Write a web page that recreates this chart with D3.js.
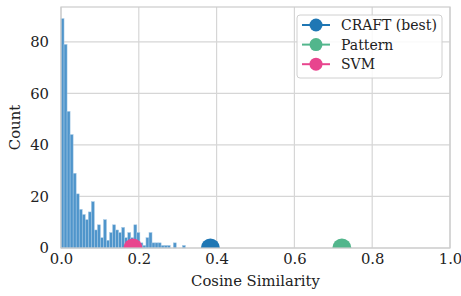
<!DOCTYPE html>
<html>
<head>
<meta charset="utf-8">
<script src="https://cdn.jsdelivr.net/npm/d3@7"></script>
<style>
  body { margin: 0; background: #fff; }
  text { font-family: "DejaVu Serif", serif; fill: #222; }
</style>
</head>
<body>
<div id="chart"></div>
<script>
// histogram counts, one per bin starting at 0
const binWidth = 0.0078;
const counts = [89, 79, 53, 44, 29, 21, 15, 13, 11, 14, 18, 7, 9, 4, 11, 3, 6, 9, 7, 6,
                8, 4, 6, 4, 9, 6, 2, 1, 4, 6, 2, 2, 2, 1, 1, 1, 0, 2, 0, 0, 1];

const methods = ["CRAFT (best)", "Pattern", "SVM"];
const similarity = [0.384, 0.722, 0.185];
const colors = ["#1f77b4", "#52b68c", "#e8458e"];

const xTicks = [0, 0.2, 0.4, 0.6, 0.8, 1.0];
const yTicks = [0, 20, 40, 60, 80];

const width = 461, height = 296;
const margin = { top: 7, right: 11, bottom: 48, left: 61 };
const fontSize = 14.8;

const svg = d3.select("#chart").append("svg")
    .attr("width", width)
    .attr("height", height);

const x = d3.scaleLinear().domain([0, 1]).range([margin.left, width - margin.right]);
const y = d3.scaleLinear().domain([0, 93.5]).range([height - margin.bottom, margin.top]);

// clip for plot area
svg.append("clipPath").attr("id", "plot")
  .append("rect")
    .attr("x", x(0)).attr("y", y(93.5))
    .attr("width", x(1) - x(0)).attr("height", y(0) - y(93.5));

// grid
const grid = svg.append("g");
grid.selectAll(".gx").data(xTicks).join("line")
    .attr("x1", d => x(d)).attr("x2", d => x(d))
    .attr("y1", y(0)).attr("y2", y(93.5))
    .attr("stroke", "#d6d6d6").attr("stroke-width", 1.2);
grid.selectAll(".gy").data(yTicks).join("line")
    .attr("y1", d => y(d)).attr("y2", d => y(d))
    .attr("x1", x(0)).attr("x2", x(1))
    .attr("stroke", "#d6d6d6").attr("stroke-width", 1.2);

// bars
svg.append("g")
  .selectAll("rect")
  .data(counts)
  .join("rect")
    .attr("x", (d, i) => x(i * binWidth))
    .attr("y", d => y(d))
    .attr("width", x(binWidth) - x(0))
    .attr("height", d => y(0) - y(d))
    .attr("fill", "#4f95cb")
    .attr("stroke", "#a9cbe6")
    .attr("stroke-width", 0.5);

// markers at y = 0
svg.append("g")
    .attr("clip-path", "url(#plot)")
  .selectAll("circle")
  .data(methods)
  .join("circle")
    .attr("cx", (d, i) => x(similarity[i]))
    .attr("cy", y(0))
    .attr("r", 9.5)
    .attr("fill", (d, i) => colors[i]);

// frame
svg.append("rect")
    .attr("x", x(0)).attr("y", y(93.5))
    .attr("width", x(1) - x(0)).attr("height", y(0) - y(93.5))
    .attr("fill", "none").attr("stroke", "#cccccc").attr("stroke-width", 1.2);

// axes
const xAxis = svg.append("g")
    .attr("transform", `translate(0,${y(0)})`)
    .call(d3.axisBottom(x).tickValues(xTicks).tickFormat(d3.format(".1f")).tickSize(0).tickPadding(5));
const yAxis = svg.append("g")
    .attr("transform", `translate(${x(0)},0)`)
    .call(d3.axisLeft(y).tickValues(yTicks).tickSize(0).tickPadding(12));
[xAxis, yAxis].forEach(a => {
  a.select(".domain").remove();
  a.attr("font-family", null);
  a.selectAll("text").attr("font-size", fontSize).attr("fill", "#222");
});

svg.append("text")
    .attr("x", (x(0) + x(1)) / 2)
    .attr("y", 286)
    .attr("text-anchor", "middle")
    .attr("font-size", fontSize)
    .text("Cosine Similarity");

svg.append("text")
    .attr("transform", `translate(20,${(y(0) + y(93.5)) / 2}) rotate(-90)`)
    .attr("text-anchor", "middle")
    .attr("font-size", fontSize)
    .text("Count");

// legend
const legend = svg.append("g").attr("transform", "translate(297,15)");
legend.append("rect")
    .attr("width", 145).attr("height", 63)
    .attr("rx", 3)
    .attr("fill", "#fff").attr("fill-opacity", 0.85)
    .attr("stroke", "#d0d0d0").attr("stroke-width", 1);
const item = legend.selectAll(".item").data(methods).join("g")
    .attr("transform", (d, i) => `translate(0,${10 + i * 19.6})`);
item.append("line")
    .attr("x1", 5).attr("x2", 33)
    .attr("stroke", (d, i) => colors[i]).attr("stroke-width", 2);
item.append("circle")
    .attr("cx", 19).attr("r", 6.5)
    .attr("fill", (d, i) => colors[i]);
item.append("text")
    .attr("x", 44).attr("dy", "0.35em")
    .attr("font-size", fontSize - 0.8)
    .text(d => d);
</script>
</body>
</html>
